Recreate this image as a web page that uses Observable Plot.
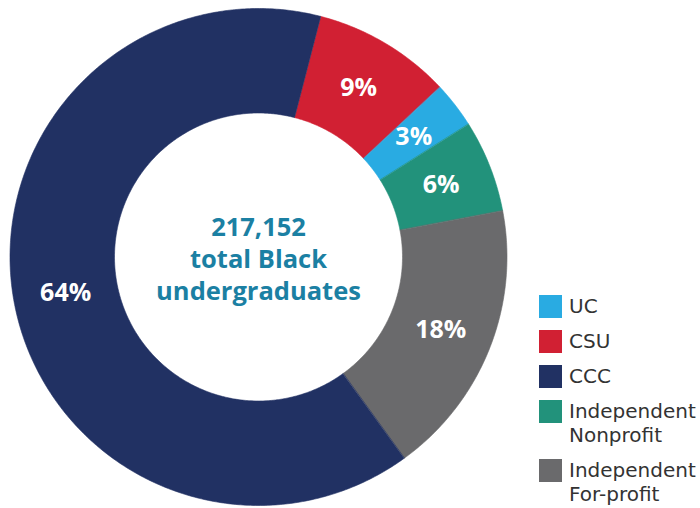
<!DOCTYPE html>
<html>
<head>
<meta charset="utf-8">
<script src="https://cdn.jsdelivr.net/npm/d3@7"></script>
<script src="https://cdn.jsdelivr.net/npm/@observablehq/plot@0.6"></script>
<style>
  html, body { margin: 0; padding: 0; background: #fff; }
  #wrap { position: relative; width: 700px; height: 508px; overflow: hidden; }
  #legend { position: absolute; left: 539px; top: 294px; font-family: "DejaVu Sans", sans-serif; font-size: 20px; color: #333; }
  .item { display: flex; align-items: flex-start; margin-bottom: 11px; }
  .sw { width: 23px; height: 23px; margin-top: 0.5px; margin-right: 7px; flex: none; }
  .lab { line-height: 24px; }
</style>
</head>
<body>
<div id="wrap"><div id="chart"></div><div id="legend"></div></div>
<script>
// Data
const categories = ["UC", "CSU", "CCC", "Independent Nonprofit", "Independent For-profit"];
const legendLabels = [["UC"], ["CSU"], ["CCC"], ["Independent", "Nonprofit"], ["Independent", "For-profit"]];
const shares = [3, 9, 64, 6, 18];
const colors = ["#29abe2", "#d12033", "#213163", "#22927b", "#6a6a6c"];
const ringOrder = ["CSU", "UC", "Independent Nonprofit", "Independent For-profit", "CCC"];
const centerLines = ["217,152", "total Black", "undergraduates"];

// Layout
const W = 700, H = 508, cx = 258, cy = 256.5, R = 248.5, innerRatio = 144 / 248.5;
const startDeg = 14.5;

const rows = ringOrder.map(c => ({category: c, share: shares[categories.indexOf(c)]}));
const arcs = d3.pie().sort(null).value(d => d.share)
  .startAngle(startDeg * Math.PI / 180).endAngle(startDeg * Math.PI / 180 + 2 * Math.PI)(rows);

const poly = [];
for (const a of arcs) {
  const n = Math.max(8, Math.ceil((a.endAngle - a.startAngle) / 0.01));
  for (let i = 0; i <= n; i++) {
    const t = a.startAngle + (a.endAngle - a.startAngle) * i / n;
    poly.push({category: a.data.category, x: Math.sin(t), y: Math.cos(t)});
  }
  for (let i = n; i >= 0; i--) {
    const t = a.startAngle + (a.endAngle - a.startAngle) * i / n;
    poly.push({category: a.data.category, x: innerRatio * Math.sin(t), y: innerRatio * Math.cos(t)});
  }
}
const labels = arcs.map(a => {
  const t = (a.startAngle + a.endAngle) / 2, r = (1 + innerRatio) / 2;
  return {x: r * Math.sin(t), y: r * Math.cos(t), text: a.data.share + "%"};
});
const centerRows = centerLines.map((t, i) => ({x: 0, y: 0, text: t, dy: (i - 1) * 32 + 3}));

const chart = Plot.plot({
  width: W, height: H,
  margin: 0,
  x: {domain: [-cx / R, (W - cx) / R], axis: null},
  y: {domain: [-(H - cy) / R, cy / R], axis: null},
  color: {domain: categories, range: colors},
  marks: [
    Plot.line(poly, {x: "x", y: "y", z: "category", fill: "category", stroke: "category", strokeWidth: 0.6, curve: "linear-closed"}),
    Plot.text(labels, {x: "x", y: "y", text: "text", fill: "white", fontSize: 25, fontWeight: 700, fontFamily: "Open Sans"}),
    ...centerRows.map(r => Plot.text([r], {x: "x", y: "y", text: "text", dy: r.dy, fill: "#1b80a3", fontSize: 25.5, fontWeight: 700, fontFamily: "Open Sans"}))
  ]
});
document.getElementById("chart").appendChild(chart);

const leg = document.getElementById("legend");
categories.forEach((c, i) => {
  const item = document.createElement("div"); item.className = "item";
  const sw = document.createElement("div"); sw.className = "sw"; sw.style.background = colors[i];
  const lab = document.createElement("div"); lab.className = "lab"; lab.innerHTML = legendLabels[i].join("<br>");
  item.appendChild(sw); item.appendChild(lab); leg.appendChild(item);
});
</script>
</body>
</html>
